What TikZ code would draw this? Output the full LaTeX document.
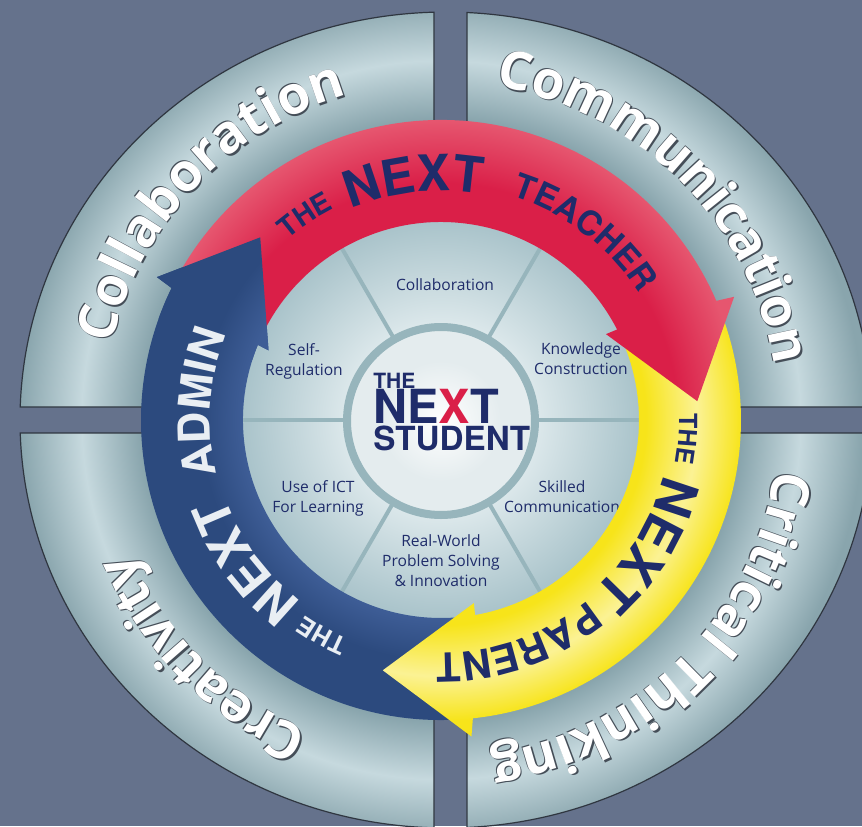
\documentclass[tikz,border=0pt]{standalone}
\usepackage{fontspec}
\setmainfont{Open Sans}
\newfontfamily\heros{TeX Gyre Heros}
\usetikzlibrary{calc}
\usetikzlibrary{decorations.text}

\definecolor{slate}{HTML}{65728C}
\definecolor{quadbase}{HTML}{89A5AD}
\definecolor{quadlight}{HTML}{C6D9DE}
\definecolor{quadedge}{HTML}{2F3640}
\definecolor{wordedge}{HTML}{454E58}
\definecolor{rimred}{HTML}{DA1F48}
\definecolor{redlight}{HTML}{E6566F}
\definecolor{rimyellow}{HTML}{F7E41A}
\definecolor{yellowlight}{HTML}{FBF294}
\definecolor{rimblue}{HTML}{2C4A7E}
\definecolor{bluelight}{HTML}{3E5D96}
\definecolor{inknavy}{HTML}{1F2C6A}
\definecolor{discedge}{HTML}{A9C3CA}
\definecolor{disccentre}{HTML}{DCE8EB}
\definecolor{spokecol}{HTML}{97B5BC}
\definecolor{hubfill}{HTML}{E4ECEE}
\definecolor{adminink}{HTML}{E9EEF3}

\newcommand\quadtype{\bfseries\fontsize{26.5}{26.5}\selectfont}
\newcommand\rimtype[1]{\heros\bfseries\fontsize{#1}{#1}\selectfont}

\pgfdeclareradialshading{quadglow}{\pgfpointorigin}{color(0bp)=(quadbase); color(17.5bp)=(quadbase); color(20.9bp)=(quadlight); color(24.5bp)=(quadbase); color(50bp)=(quadbase)}
\pgfdeclareradialshading{discglow}{\pgfpointorigin}{color(0bp)=(disccentre); color(12bp)=(disccentre); color(25bp)=(discedge); color(50bp)=(discedge)}
\pgfdeclareradialshading{hubglow}{\pgfpointorigin}{color(0bp)=(white); color(16bp)=(hubfill); color(50bp)=(hubfill)}
\pgfdeclareradialshading{redglow}{\pgfpointorigin}{color(0bp)=(rimred); color(18.5bp)=(rimred); color(23.4bp)=(redlight); color(50bp)=(redlight)}
\pgfdeclareradialshading{yellowglow}{\pgfpointorigin}{color(0bp)=(rimyellow); color(16bp)=(rimyellow); color(20bp)=(yellowlight); color(23.5bp)=(rimyellow); color(50bp)=(rimyellow)}
\pgfdeclareradialshading{blueglow}{\pgfpointorigin}{color(0bp)=(bluelight); color(15.5bp)=(bluelight); color(18.8bp)=(rimblue); color(50bp)=(rimblue)}

\begin{document}
\begin{tikzpicture}[x=0.5pt, y=0.5pt]

    \tikzset{
        quadrim/.style={draw=quadedge, line width=0.6pt},
        spoke/.style={draw=spokecol, line width=2pt},
        discword/.style={text=inknavy, align=center, inner sep=0pt, font=\fontsize{7.8}{10}\selectfont},
        hubword/.style={anchor=base west, inner sep=0pt, text=inknavy},
        pics/rimarrow/.style n args={3}{code={
            \begin{scope}
                \clip ({#1+0.6}:300) arc[start angle={#1+0.6}, end angle={#2+0.6}, radius=300]
                    -- (#2:318) -- ({#2-18.6}:257) -- ({#2+4.7}:186) -- ({#2+4.4}:198)
                    arc[start angle={#2+4.4}, end angle={#1+4.4}, radius=198] -- cycle;
                \shade[shading=#3] (0,0) circle[radius=320];
            \end{scope}
        }},
        pics/rimhead/.style n args={2}{code={
            \begin{scope}
                \clip ({#1+7}:300) arc[start angle={#1+7}, end angle={#1+0.6}, radius=300]
                    -- (#1:318) -- ({#1-18.6}:257) -- ({#1+4.7}:186) -- ({#1+4.4}:198)
                    arc[start angle={#1+4.4}, end angle={#1+9}, radius=198] -- cycle;
                \shade[shading=#2] (0,0) circle[radius=320];
            \end{scope}
        }},
        pics/arcword/.style n args={4}{code={
            \path[decorate, decoration={text along path, text align=center, text={|#3|#4}}]
                ({#1+60}:#2) arc[start angle={#1+60}, end angle={#1-60}, radius=#2];
        }},
        pics/embossword/.style n args={3}{code={
            \foreach \dx/\dy in {1.3/-1.5, -0.9/0.9}
                \path[shift={(\dx,\dy)}, decorate, decoration={text along path, text align=center, text={|\color{wordedge}\quadtype|#3}}]
                    ({#1+75}:#2) arc[start angle={#1+75}, end angle={#1-75}, radius=#2];
            \path[decorate, decoration={text along path, text align=center, text={|\color{white}\quadtype|#3}}]
                ({#1+75}:#2) arc[start angle={#1+75}, end angle={#1-75}, radius=#2];
        }}
    }

    \useasboundingbox (-441,-406) rectangle (421,420);
    \fill[slate] (-441,-406) rectangle (421,420);

    \foreach \qx/\qy/\ta/\tb in {-7/13/178.174/91.614, 26/13/87.174/1.826, 26/-13/-1.826/-87.174, -7/-13/268.386/181.826}{
        \begin{scope}
            \clip (\qx,\qy) -- ([shift={(5,0)}]\ta:426 and 408) arc[start angle=\ta, end angle=\tb, x radius=426, y radius=408] -- cycle;
            \shade[shading=quadglow] (0,0) circle[radius=430];
        \end{scope}
        \draw[quadrim] (\qx,\qy) -- ([shift={(5,0)}]\ta:426 and 408) arc[start angle=\ta, end angle=\tb, x radius=426, y radius=408] -- cycle;
    }

    \shade[shading=discglow] (0,0) circle[radius=199];
    \foreach \s in {0,60,...,300}
        \draw[spoke] (\s:96) -- (\s:199);
    \shadedraw[shading=hubglow, draw=spokecol, line width=4pt] (0,-1) circle[radius=94];

    \node[discword] (collab) at (4,135) {Collaboration};
    \node[discword] (selfreg) at (-137,59) {Self-\\Regulation};
    \node[discword] (knowledge) at (140,61) {Knowledge\\Construction};
    \node[discword] (ict) at (-123,-78) {Use of ICT\\For Learning};
    \node[discword] (skilled) at (121,-77) {Skilled\\Communication};
    \node[discword] (realworld) at (0,-141) {Real-World\\Problem Solving\\\& Innovation};

    \node[hubword, font={\rimtype{10.5}}] (hubthe) at (-68,32) {THE};
    \node[hubword, font={\rimtype{23.5}}] (hubnext) at (-68,-3) {NE\textcolor{rimred}{X}T};
    \node[hubword, font={\rimtype{16.6}}] (hubstudent) at (-68,-30) {STUDENT};

    \pic {rimarrow={-84.5}{-206.7}{blueglow}};
    \pic {rimarrow={22.8}{-84.5}{yellowglow}};
    \pic {rimarrow={153.3}{22.8}{redglow}};
    \pic {rimhead={-206.7}{blueglow}};

    \pic {arcword={123.5}{237}{\color{inknavy}\rimtype{14}}{THE}};
    \pic {arcword={96.5}{229}{\color{inknavy}\rimtype{25}}{NEXT}};
    \pic {arcword={52.5}{235}{\color{inknavy}\rimtype{17}}{TEACHER}};

    \pic {arcword={-4.4}{238}{\color{inknavy}\rimtype{12.5}}{THE}};
    \pic {arcword={-31}{229}{\color{inknavy}\rimtype{26}}{NEXT}};
    \pic {arcword={-71}{233}{\color{inknavy}\rimtype{20}}{PARENT}};

    \pic {arcword={-119}{238}{\color{adminink}\rimtype{12.5}}{THE}};
    \pic {arcword={-144}{229}{\color{adminink}\rimtype{25}}{NEXT}};
    \pic {arcword={175.8}{231}{\color{adminink}\rimtype{22}}{ADMIN}};

    \pic {embossword={136.5}{338}{Collaboration}};
    \pic {embossword={45}{338}{Communication}};
    \pic {embossword={-45}{338}{Critical Thinking}};
    \pic {embossword={-135}{338}{Creativity}};

\end{tikzpicture}
\end{document}
